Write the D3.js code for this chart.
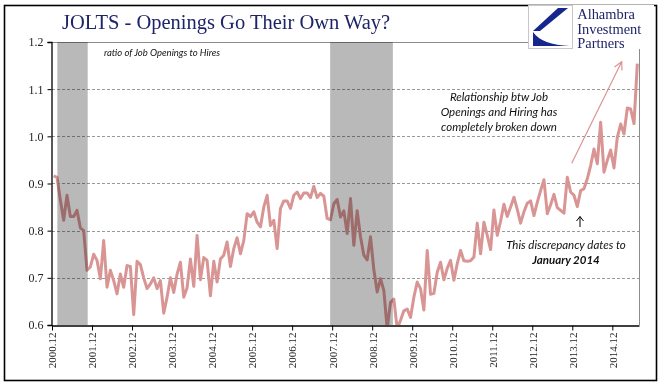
<!DOCTYPE html>
<html>
<head>
<meta charset="utf-8">
<script src="https://cdn.jsdelivr.net/npm/d3@7"></script>
<style>
  body { margin: 0; background: #fff; }
  svg { display: block; }
</style>
</head>
<body>
<script>
// monthly ratio of job openings to hires, Dec 2000 .. Jul 2015
const ratio = [
  0.916, 0.913, 0.865, 0.822, 0.875, 0.830, 0.830, 0.843, 0.806, 0.800, 0.716, 0.723,
  0.750, 0.737, 0.698, 0.779, 0.680, 0.716, 0.694, 0.666, 0.708, 0.680, 0.726, 0.724,
  0.622, 0.735, 0.728, 0.700, 0.677, 0.687, 0.700, 0.677, 0.694, 0.625, 0.659, 0.700,
  0.669, 0.708, 0.733, 0.659, 0.679, 0.740, 0.682, 0.790, 0.696, 0.743, 0.737, 0.662,
  0.735, 0.691, 0.740, 0.748, 0.776, 0.724, 0.762, 0.785, 0.751, 0.779, 0.836, 0.830,
  0.840, 0.818, 0.808, 0.850, 0.875, 0.811, 0.822, 0.762, 0.847, 0.863, 0.863, 0.847,
  0.875, 0.882, 0.868, 0.880, 0.880, 0.870, 0.894, 0.870, 0.879, 0.873, 0.826, 0.823,
  0.857, 0.866, 0.829, 0.842, 0.794, 0.868, 0.769, 0.842, 0.787, 0.748, 0.738, 0.787,
  0.717, 0.670, 0.698, 0.673, 0.592, 0.648, 0.655, 0.592, 0.610, 0.630, 0.634, 0.616,
  0.659, 0.691, 0.677, 0.632, 0.758, 0.665, 0.667, 0.712, 0.733, 0.696, 0.720, 0.737,
  0.695, 0.730, 0.758, 0.736, 0.735, 0.736, 0.744, 0.816, 0.751, 0.818, 0.790, 0.760,
  0.844, 0.790, 0.820, 0.856, 0.830, 0.850, 0.871, 0.845, 0.816, 0.840, 0.858, 0.863,
  0.832, 0.860, 0.885, 0.908, 0.836, 0.855, 0.877, 0.849, 0.843, 0.837, 0.913, 0.882,
  0.875, 0.851, 0.885, 0.889, 0.910, 0.938, 0.973, 0.942, 1.030, 0.924, 0.949, 0.971,
  0.933, 0.998, 1.026, 1.005, 1.060, 1.058, 1.027, 1.154
];

const tickLabels = ["2000.12", "2001.12", "2002.12", "2003.12", "2004.12", "2005.12", "2006.12",
  "2007.12", "2008.12", "2009.12", "2010.12", "2011.12", "2012.12", "2013.12", "2014.12"];
const yTicks = [0.6, 0.7, 0.8, 0.9, 1.0, 1.1, 1.2];
const gridTicks = [0.7, 0.8, 0.9, 1.0, 1.1];
// recessions, in months since Dec 2000
const recessions = [[1.6, 10.7], [83.4, 102.2]];

const width = 669;
const height = 392;
const serif = "'Liberation Serif', 'Times New Roman', serif";
const sans = "Lato, 'Open Sans', sans-serif";

const x = d3.scaleLinear().domain([0, 176]).range([52, 639]);
const y = d3.scaleLinear().domain([0.6, 1.2]).range([325, 42]);

const svg = d3.select('body').append('svg')
  .attr('width', width)
  .attr('height', height);

// outer frame
svg.append('rect')
  .attr('x', 4.5).attr('y', 5.5)
  .attr('width', 652).attr('height', 375)
  .attr('fill', '#fff')
  .attr('stroke', '#000').attr('stroke-width', 1.6);

svg.append('defs').append('clipPath').attr('id', 'plot')
  .append('rect')
  .attr('x', x(0)).attr('y', y(1.2))
  .attr('width', x(176) - x(0)).attr('height', y(0.6) - y(1.2));

// gridlines
svg.append('g')
  .selectAll('line')
  .data(gridTicks)
  .enter().append('line')
  .attr('x1', x(0)).attr('x2', x(176))
  .attr('y1', d => Math.round(y(d)) + 0.5).attr('y2', d => Math.round(y(d)) + 0.5)
  .attr('stroke', '#9a9a9a')
  .attr('stroke-dasharray', '3,2');

// plot area top / right border
svg.append('path')
  .attr('d', `M${x(0)},${Math.round(y(1.2)) + 0.5}H${x(176) + 0.5}V${y(0.6)}`)
  .attr('fill', 'none')
  .attr('stroke', '#8c8c8c');

// the series
const line = d3.line()
  .x((d, i) => x(i + 0.5))
  .y(d => y(d));

svg.append('path')
  .datum(ratio)
  .attr('clip-path', 'url(#plot)')
  .attr('d', line)
  .attr('fill', 'none')
  .attr('stroke', '#d99594')
  .attr('stroke-width', 3)
  .attr('stroke-linejoin', 'round');

// recession shading, multiplied over the line
svg.append('g')
  .selectAll('rect')
  .data(recessions)
  .enter().append('rect')
  .attr('x', d => x(d[0]))
  .attr('width', d => x(d[1]) - x(d[0]))
  .attr('y', y(1.2))
  .attr('height', y(0.6) - y(1.2))
  .attr('fill', '#b9b9b9')
  .style('mix-blend-mode', 'multiply');

// y axis
const yAxis = svg.append('g')
  .attr('transform', `translate(${x(0) - 0.5},0)`)
  .call(d3.axisLeft(y).tickValues(yTicks).tickFormat(d3.format('.1f')).tickSize(4).tickPadding(4));
yAxis.select('.domain').attr('stroke', '#000').attr('stroke-width', 1.3);
yAxis.selectAll('.tick line').attr('stroke', '#000');
yAxis.selectAll('text')
  .attr('font-family', serif)
  .attr('font-size', 12)
  .attr('fill', '#222');

// x axis
const xAxis = svg.append('g')
  .attr('transform', `translate(0,${y(0.6) + 0.5})`)
  .call(d3.axisBottom(x)
    .tickValues(d3.range(0, 169, 12))
    .tickFormat((d, i) => tickLabels[i])
    .tickSize(5)
    .tickSizeOuter(0));
xAxis.select('.domain').attr('stroke', '#000').attr('stroke-width', 1.3);
xAxis.selectAll('.tick line').attr('stroke', '#000');
xAxis.selectAll('text')
  .attr('font-family', serif)
  .attr('font-size', 11)
  .attr('fill', '#222')
  .attr('transform', 'rotate(-90)')
  .attr('text-anchor', 'end')
  .attr('x', -7)
  .attr('y', 0)
  .attr('dy', '0.35em');

// title
svg.append('text')
  .attr('x', 62).attr('y', 29)
  .attr('font-family', serif)
  .attr('font-size', 20.5)
  .attr('fill', '#1e2468')
  .text('JOLTS - Openings Go Their Own Way?');

// logo
const logo = svg.append('g').attr('transform', 'translate(528,5)');
logo.append('rect')
  .attr('x', 0).attr('y', 0).attr('width', 126).attr('height', 44)
  .attr('fill', '#fff');
logo.append('rect')
  .attr('x', 0.5).attr('y', 0.5).attr('width', 44).attr('height', 43)
  .attr('fill', '#fff').attr('stroke', '#c8c8c8');
logo.append('path')
  .attr('d', 'M40,3 L30,3 L5,26 L12,26 Z')
  .attr('fill', '#17268c');
logo.append('path')
  .attr('d', 'M5,27 Q14,40 42,41 L5,41 Z')
  .attr('fill', '#17268c');
logo.append('g')
  .attr('transform', 'scale(1.07,1.08)')
  .selectAll('text')
  .data(['Alhambra', 'Investment', 'Partners'])
  .enter().append('text')
  .attr('x', 46)
  .attr('y', (d, i) => 13 + i * 13.5)
  .attr('font-family', serif)
  .attr('font-size', 13.5)
  .attr('fill', '#1e2468')
  .text(d => d);

// annotations
svg.append('text')
  .attr('x', 104).attr('y', 56)
  .attr('font-family', sans)
  .attr('font-style', 'italic')
  .attr('font-size', 9.5)
  .attr('fill', '#111')
  .text('ratio of Job Openings to Hires');

svg.append('g')
  .selectAll('text')
  .data(['Relationship btw Job', 'Openings and Hiring has', 'completely broken down'])
  .enter().append('text')
  .attr('x', 499)
  .attr('y', (d, i) => 101 + i * 15)
  .attr('text-anchor', 'middle')
  .attr('font-family', sans)
  .attr('font-style', 'italic')
  .attr('font-size', 11.5)
  .attr('fill', '#111')
  .text(d => d);

svg.append('text')
  .attr('x', 566).attr('y', 249)
  .attr('text-anchor', 'middle')
  .attr('font-family', sans)
  .attr('font-style', 'italic')
  .attr('font-size', 11.5)
  .attr('fill', '#111')
  .text('This discrepancy dates to');
svg.append('text')
  .attr('x', 566).attr('y', 264)
  .attr('text-anchor', 'middle')
  .attr('font-family', sans)
  .attr('font-style', 'italic')
  .attr('font-weight', 'bold')
  .attr('font-size', 11.5)
  .attr('fill', '#111')
  .text('January 2014');

// pink trend arrow
svg.append('path')
  .attr('d', 'M571.7,163.3L621.7,61.7M614.5,67L621.7,61.7L622,70.5')
  .attr('fill', 'none')
  .attr('stroke', '#d99594')
  .attr('stroke-width', 1.2);

// black pointer arrow
svg.append('path')
  .attr('d', 'M580,227L580,216.5M576.5,221L580,216.5L583.5,221')
  .attr('fill', 'none')
  .attr('stroke', '#000')
  .attr('stroke-width', 1);
</script>
</body>
</html>
